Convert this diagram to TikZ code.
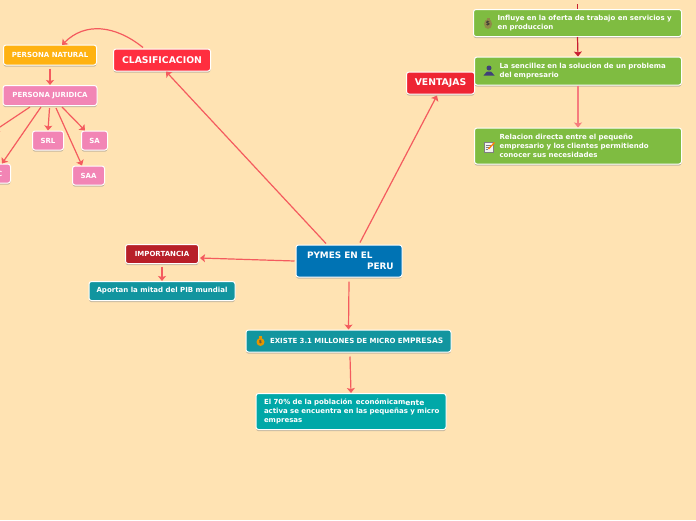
\documentclass[tikz,border=0pt]{standalone}
\usepackage{fontspec}
\setmainfont{DejaVu Sans}
\usetikzlibrary{arrows.meta,shadows}
\definecolor{paper}{HTML}{FFE3B3}
\definecolor{linkred}{HTML}{F45B5E}
\definecolor{linkdark}{HTML}{C81E32}
\definecolor{pymesblue}{HTML}{0073B4}
\definecolor{clasred}{HTML}{FF2E3F}
\definecolor{ventred}{HTML}{EE2533}
\definecolor{impred}{HTML}{B81F28}
\definecolor{natamber}{HTML}{FFB211}
\definecolor{jurpink}{HTML}{F285B5}
\definecolor{tealdark}{HTML}{12959F}
\definecolor{tealpale}{HTML}{00A8A8}
\definecolor{leafgreen}{HTML}{7FBC41}
\newcommand{\lowbit}[1]{\raisebox{-0.8pt}{\fontsize{7.5}{9}\selectfont #1}}

\begin{document}
\begin{tikzpicture}[
  x=1pt, y=-1pt,
  topic/.style={rectangle, rounded corners=2.5pt, draw=white, line width=1pt, text=white,
    inner sep=0pt, font=\bfseries\fontsize{7}{9}\selectfont,
    drop shadow={shadow xshift=0pt, shadow yshift=-1.6pt, fill=black!50, opacity=.45}},
  bigtopic/.style={topic, font=\bfseries\fontsize{9.3}{11}\selectfont},
  link/.style={draw=linkred, line width=1.2pt, -{Stealth[length=5pt,width=8pt,inset=1pt]}}
]
\fill[paper] (0,0) rectangle (696,520);
\clip (0,0) rectangle (696,520);

% Main topic
\node[bigtopic, fill=pymesblue, text width=106pt, minimum height=32pt, align=left,
  font=\bfseries\fontsize{8.9}{11}\selectfont] (pymes) at (349,261)
  {\hspace*{11pt}PYMES EN EL\\ \hspace*{71pt}PERU};

% Clasificacion branch
\node[bigtopic, fill=clasred, minimum width=97pt, minimum height=22pt] (clasif) at (162,60) {CLASIFICACION};
\node[topic, fill=natamber, minimum width=93pt, minimum height=20pt] (natural) at (50,55) {PERSONA NATURAL};
\node[topic, fill=jurpink, minimum width=94pt, minimum height=20pt] (juridica) at (50,95.5) {PERSONA JURIDICA};
\node[topic, fill=jurpink, minimum width=31pt, minimum height=19pt] (srl) at (48,140.5) {SRL};
\node[topic, fill=jurpink, minimum width=26pt, minimum height=19pt] (sa) at (94.5,140.5) {SA};
\node[topic, fill=jurpink, minimum width=32pt, minimum height=19pt] (saa) at (88.5,175.5) {SAA};
\node[topic, fill=jurpink, minimum width=32pt, minimum height=19pt] (sac) at (-5.5,173.5) {SAC};
\coordinate (offleft) at (-6,131);

% Ventajas branch
\node[bigtopic, fill=ventred, minimum width=68pt, minimum height=22pt] (ventajas) at (440.5,83) {VENTAJAS};
\node[topic, fill=leafgreen, text width=208pt, minimum height=27pt, align=left] (oferta) at (577.5,23) {\hspace*{24pt}Influye en la oferta de trabajo en servicios y\\ \hspace*{24pt}en produccion};
\node[topic, fill=leafgreen, text width=207pt, minimum height=28pt, align=left] (sencillez) at (578,71) {\hspace*{25pt}La sencillez en la solucion de un problema\\ \hspace*{25pt}del empresario};
\node[topic, fill=leafgreen, text width=207pt, minimum height=36pt, align=left] (relacion) at (578,146) {\hspace*{25pt}Relacion directa entre el pequeño\\ \hspace*{25pt}empresario y los clientes permitiendo\\ \hspace*{25pt}conocer sus necesidades};
\coordinate (offtop) at (577.5,4);

% Importancia branch
\node[topic, fill=impred, minimum width=73pt, minimum height=19pt] (importancia) at (162,254) {IMPORTANCIA};
\node[topic, fill=tealdark, minimum width=146pt, minimum height=19pt] (mitad) at (162,291) {Aportan la mitad del PIB mundial};

% Millones branch
\node[topic, fill=tealdark, text width=205pt, minimum height=22pt, align=left] (millones) at (348.5,341) {\hspace*{24pt}EXISTE 3.1 MILLONES DE MICRO E\lowbit{MPRESAS}};
\node[topic, fill=tealpale, text width=190pt, minimum height=36pt, align=left] (poblacion) at (351,411.5) {\hspace*{8pt}El 70\% de la población\, económicam\lowbit{ente}\\ \hspace*{8pt}activa se encuentra en las pequeñas y micro\\ \hspace*{8pt}empresas};

% Links
\draw[link] ([xshift=-23pt,yshift=1pt]pymes.north) -- ([xshift=4pt]clasif.south);
\draw[link] ([xshift=11pt,yshift=2pt]pymes.north) -- ([xshift=-3.5pt,yshift=-1pt]ventajas.south);
\draw[link] ([xshift=-1pt]pymes.west) -- ([xshift=1pt,yshift=-4pt]importancia.east);
\draw[link] ([yshift=-4pt]pymes.south) -- (millones.north);
\draw[link] ([xshift=1.5pt,yshift=-4pt]millones.south) -- (poblacion.north);
\draw[link] ([yshift=-2.5pt]importancia.south) -- (mitad.north);
\draw[link] ([xshift=-19pt,yshift=1pt]clasif.north) .. controls (115,25) and (85,22) .. ([xshift=12pt,yshift=-0.5pt]natural.north);
\draw[link] ([yshift=-3pt]natural.south) -- (juridica.north);
\draw[link] ([xshift=-20pt,yshift=-1pt]juridica.south) -- (offleft);
\draw[link] ([xshift=-9pt,yshift=-1pt]juridica.south) -- ([xshift=7.5pt]sac.north);
\draw[link] ([yshift=-2pt,xshift=-0.5pt]juridica.south) -- (srl.north);
\draw[link] ([xshift=6pt,yshift=-2pt]juridica.south) -- ([xshift=-6.5pt]saa.north);
\draw[link] ([xshift=12pt,yshift=-1pt]juridica.south) -- ([xshift=-9.5pt]sa.north);
\draw[draw=linkdark, line width=1.2pt] (offtop) -- (oferta.north);
\draw[link, draw=linkdark] (oferta.south) -- (sencillez.north);
\draw[link, draw=linkred!80!white] (sencillez.south) -- (relacion.north);

% Icons
\fill[olive!50!gray] (488,24) ellipse (4pt and 5pt);
\fill[olive!50!gray] (486.5,18) rectangle (489.5,20.5);
\node[text=black!80, inner sep=0pt, font=\bfseries\fontsize{6}{6}\selectfont] (dollar) at (488,24) {\$};
\fill[blue!30!black!75] (489,68) circle (2.5pt);
\fill[blue!30!black!75] (483.5,75.5) -- (487,71.5) -- (491,71.5) -- (494.5,75.5) -- cycle;
\draw[gray, fill=white!90!gray] (484,142) rectangle (493,152);
\draw[gray, line width=0.4pt] (485.5,145) -- (491,145) (485.5,147) -- (490,147) (485.5,149) -- (488,149);
\draw[orange, line width=1.3pt] (488.5,149) -- (494.5,142.5);
\fill[orange!70!yellow!90!black] (260.5,342) circle (4pt);
\fill[orange!70!yellow!90!black] (259,335.5) rectangle (262,338.5);
\node[text=black!70, inner sep=0pt, font=\bfseries\fontsize{4.5}{5}\selectfont] (bag) at (260.5,342) {\$};
\end{tikzpicture}
\end{document}
